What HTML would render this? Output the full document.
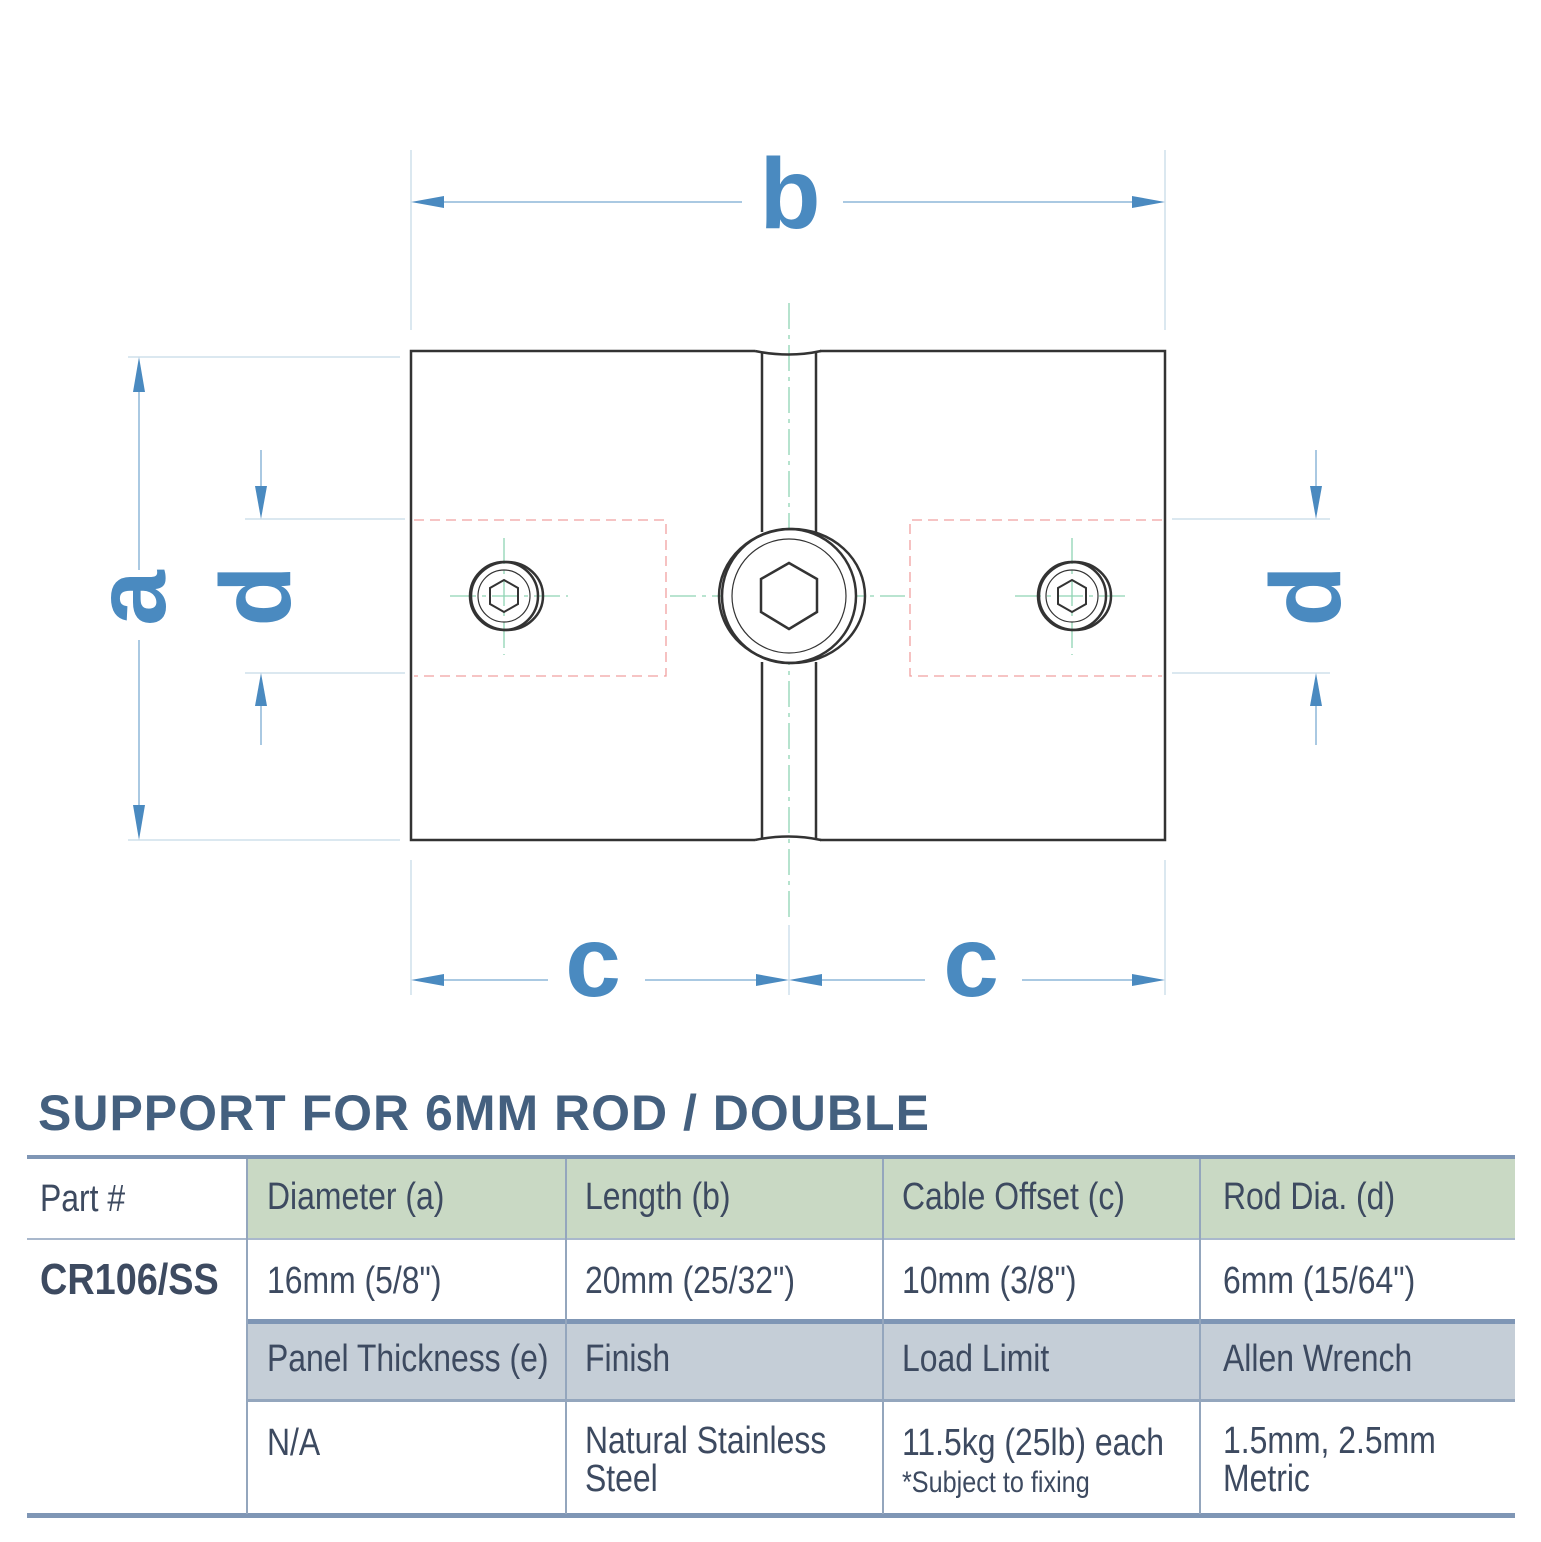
<!DOCTYPE html>
<html><head><style>
body{margin:0;background:#fff;width:1541px;height:1542px;overflow:hidden;position:relative;font-family:"Liberation Sans",sans-serif;}
.t{position:absolute;color:#3d4a60;font-size:38px;white-space:nowrap;transform:scaleX(0.84);transform-origin:0 0;}
.title{position:absolute;left:38px;top:1084px;font-family:"Liberation Sans",sans-serif;font-size:50px;letter-spacing:1px;color:#44607f;font-weight:bold;white-space:nowrap;transform:scaleX(1.0);transform-origin:0 0;}
</style></head><body>
<svg width="1541" height="1150" style="position:absolute;left:0;top:0" xmlns="http://www.w3.org/2000/svg">
<g stroke="#cfe0ec" stroke-width="1.5" fill="none">
<line x1="411" y1="150" x2="411" y2="330"/><line x1="1165" y1="150" x2="1165" y2="330"/>
<line x1="128" y1="357" x2="400" y2="357"/><line x1="128" y1="840" x2="400" y2="840"/>
<line x1="245" y1="519" x2="405" y2="519"/><line x1="245" y1="673" x2="405" y2="673"/>
<line x1="1172" y1="519" x2="1330" y2="519"/><line x1="1172" y1="673" x2="1330" y2="673"/>
<line x1="411" y1="860" x2="411" y2="995"/><line x1="1165" y1="860" x2="1165" y2="995"/><line x1="789" y1="925" x2="789" y2="995"/>
</g>
<g stroke="#8db7d8" stroke-width="1.5">
<line x1="420" y1="202" x2="742" y2="202"/><line x1="843" y1="202" x2="1158" y2="202"/>
<line x1="139" y1="370" x2="139" y2="570"/><line x1="139" y1="640" x2="139" y2="830"/>
<line x1="261" y1="450" x2="261" y2="512"/><line x1="261" y1="680" x2="261" y2="745"/>
<line x1="1316" y1="450" x2="1316" y2="512"/><line x1="1316" y1="680" x2="1316" y2="745"/>
<line x1="420" y1="980" x2="548" y2="980"/><line x1="645" y1="980" x2="783" y2="980"/>
<line x1="795" y1="980" x2="925" y2="980"/><line x1="1022" y1="980" x2="1158" y2="980"/>
</g>
<g fill="#4a8ac0">
<polygon points="411,202 444,196 444,208"/><polygon points="1165,202 1132,196 1132,208"/>
<polygon points="139,357 133,392 145,392"/><polygon points="139,840 133,805 145,805"/>
<polygon points="261,519 255,486 267,486"/><polygon points="261,673 255,706 267,706"/>
<polygon points="1316,519 1310,486 1322,486"/><polygon points="1316,673 1310,706 1322,706"/>
<polygon points="411,980 444,974 444,986"/><polygon points="789,980 756,974 756,986"/>
<polygon points="789,980 822,974 822,986"/><polygon points="1165,980 1132,974 1132,986"/>
</g>
<g fill="#4a8ac0" font-family="Liberation Sans,sans-serif" font-weight="bold" text-anchor="middle">
<text x="790" y="228" font-size="100">b</text>
<text x="593" y="996" font-size="100">c</text>
<text x="971" y="996" font-size="100">c</text>
<text transform="translate(165,598) rotate(-90)" font-size="100">a</text>
<text transform="translate(290,596) rotate(-90)" font-size="100">d</text>
<text transform="translate(1340,596) rotate(-90)" font-size="100">d</text>
</g>
<g stroke="#f0a0a0" stroke-width="1.3" stroke-dasharray="10,6" fill="none">
<polyline points="414,520 666,520 666,676 414,676"/>
<polyline points="1162,520 910,520 910,676 1162,676"/>
</g>
<g stroke="#8fd4b4" stroke-width="1.3" stroke-dasharray="26,6,4,6" fill="none">
<line x1="789" y1="303" x2="789" y2="920"/>
<line x1="670" y1="596" x2="905" y2="596"/>
<line x1="450" y1="596" x2="568" y2="596"/><line x1="504" y1="538" x2="504" y2="655"/>
<line x1="1015" y1="596" x2="1130" y2="596"/><line x1="1072" y1="538" x2="1072" y2="655"/>
</g>
<g stroke="#333" stroke-width="2.5" fill="none">
<path d="M755,351 H411 V840 H755"/><path d="M820,351 H1165 V840 H820"/>
<path d="M755,351 Q789,358 821,351"/><path d="M755,840 Q789,833 821,840"/>
<line x1="762" y1="353" x2="762" y2="532"/><line x1="816" y1="353" x2="816" y2="532"/>
<line x1="762" y1="662" x2="762" y2="838"/><line x1="816" y1="662" x2="816" y2="838"/>
<circle cx="789" cy="596" r="67" fill="#fff"/>
<ellipse cx="792" cy="596" rx="73" ry="67"/>
<circle cx="789" cy="596" r="57" stroke-width="1.2"/>
<polygon points="789,563 817,579 817,612 789,629 761,612 761,579"/>
<circle cx="504" cy="596" r="34"/><ellipse cx="507" cy="596" rx="36" ry="34"/>
<circle cx="504" cy="596" r="26" stroke-width="1.2"/>
<polygon points="504,580 518,588 518,604 504,612 490,604 490,588" stroke-width="2"/>
<circle cx="1072" cy="596" r="34"/><ellipse cx="1075" cy="596" rx="36" ry="34"/>
<circle cx="1072" cy="596" r="26" stroke-width="1.2"/>
<polygon points="1072,580 1086,588 1086,604 1072,612 1058,604 1058,588" stroke-width="2"/>
</g>
</svg>
<div class="title">SUPPORT FOR 6MM ROD / DOUBLE</div>
<div style="position:absolute;left:27px;top:1155px;width:1488px;height:4px;background:#7f96b5"></div>
<div style="position:absolute;left:248px;top:1159px;width:1267px;height:80px;background:#c9d9c4"></div>
<div style="position:absolute;left:27px;top:1238px;width:1488px;height:2px;background:#a9b8cc"></div>
<div style="position:absolute;left:248px;top:1319px;width:1267px;height:5px;background:#7f96b5"></div>
<div style="position:absolute;left:248px;top:1324px;width:1267px;height:75px;background:#c5ced7"></div>
<div style="position:absolute;left:248px;top:1399px;width:1267px;height:3px;background:#94a6bd"></div>
<div style="position:absolute;left:27px;top:1513px;width:1488px;height:5px;background:#7f96b5"></div>
<div style="position:absolute;left:246px;top:1159px;width:2px;height:355px;background:#94a6bd"></div>
<div style="position:absolute;left:565px;top:1159px;width:2px;height:355px;background:#94a6bd"></div>
<div style="position:absolute;left:882px;top:1159px;width:2px;height:355px;background:#94a6bd"></div>
<div style="position:absolute;left:1199px;top:1159px;width:2px;height:355px;background:#94a6bd"></div>
<div class="t" style="left:40px;top:1178px">Part #</div>
<div class="t" style="left:40px;top:1255px;font-weight:bold;font-size:44px;transform:scaleX(0.86)">CR106/SS</div>
<div class="t" style="left:267px;top:1176px">Diameter (a)</div>
<div class="t" style="left:585px;top:1176px">Length (b)</div>
<div class="t" style="left:902px;top:1176px">Cable Offset (c)</div>
<div class="t" style="left:1223px;top:1176px">Rod Dia. (d)</div>
<div class="t" style="left:267px;top:1260px">16mm (5/8")</div>
<div class="t" style="left:585px;top:1260px">20mm (25/32")</div>
<div class="t" style="left:902px;top:1260px">10mm (3/8")</div>
<div class="t" style="left:1223px;top:1260px">6mm (15/64")</div>
<div class="t" style="left:267px;top:1338px">Panel Thickness (e)</div>
<div class="t" style="left:585px;top:1338px">Finish</div>
<div class="t" style="left:902px;top:1338px">Load Limit</div>
<div class="t" style="left:1223px;top:1338px">Allen Wrench</div>
<div class="t" style="left:267px;top:1422px">N/A</div>
<div class="t" style="left:585px;top:1422px;line-height:38px">Natural Stainless<br>Steel</div>
<div class="t" style="left:902px;top:1422px">11.5kg (25lb) each</div>
<div class="t" style="left:902px;top:1466px;font-size:30px">*Subject to fixing</div>
<div class="t" style="left:1223px;top:1422px;line-height:38px">1.5mm, 2.5mm<br>Metric</div>
</body></html>
